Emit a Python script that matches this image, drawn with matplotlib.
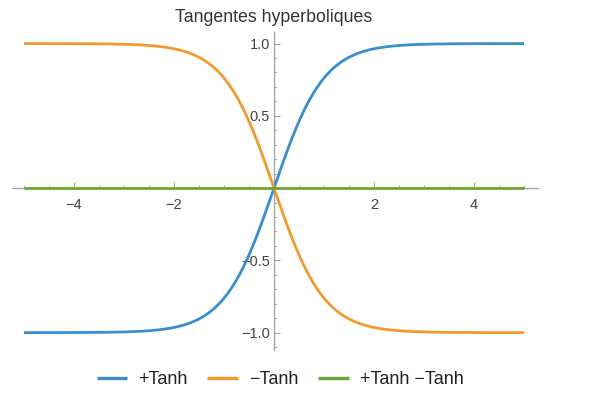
import numpy as np
import matplotlib
matplotlib.use("Agg")
import matplotlib.pyplot as plt
from matplotlib.ticker import MultipleLocator, FixedLocator

title = "Tangentes hyperboliques"
labels = ["+Tanh", "\u2212Tanh", "+Tanh \u2212Tanh"]
colors = ["#3A8FCB", "#F29A2E", "#6BA539"]
x_range = (-5, 5)
x_ticks = [-4, -2, 2, 4]
y_ticks = [-1.0, -0.5, 0.5, 1.0]

plt.rcParams['font.family'] = ['Liberation Sans', 'DejaVu Sans']
fig = plt.figure(figsize=(6, 4.08), dpi=100)
ax = fig.add_axes([12/600, 1-350/408, 526/600, (350-32)/408])

x = np.linspace(x_range[0], x_range[1], 600)
ys = [np.tanh(x), -np.tanh(x), np.tanh(x) - np.tanh(x)]
for y, c, l in zip(ys, colors, labels):
    ax.plot(x, y, color=c, lw=2.0, label=l, solid_capstyle='butt', zorder=3)

ax.set_xlim(-5.24, 5.28)
ax.set_ylim(-1.12, 1.08)
for s in ['top', 'right']:
    ax.spines[s].set_visible(False)
ax.spines['left'].set_position(('data', 0))
ax.spines['bottom'].set_position(('data', 0))
for s in ['left', 'bottom']:
    ax.spines[s].set_color('#A0A0A0')
    ax.spines[s].set_linewidth(0.9)
ax.xaxis.set_major_locator(FixedLocator(x_ticks))
ax.xaxis.set_minor_locator(MultipleLocator(0.5))
ax.yaxis.set_major_locator(FixedLocator(y_ticks))
ax.yaxis.set_minor_locator(MultipleLocator(0.1))
ax.set_xticklabels([f"{v:d}".replace('-', '\u2212') for v in x_ticks])
ax.set_yticklabels([f"{v:.1f}".replace('-', '\u2212') for v in y_ticks])
ax.tick_params(which='both', direction='in', color='#A0A0A0', labelcolor='#444444', labelsize=10.5)
ax.tick_params(which='major', length=4, width=0.8)
ax.tick_params(axis='x', which='major', pad=7)
ax.tick_params(axis='y', which='major', pad=3)
ax.tick_params(which='minor', length=2.5, width=0.6)
ax.patch.set_visible(False)

fig.text(274/600, 1-18/408, title, ha='center', va='center', fontsize=12.8, color='#333333')
leg = fig.legend(loc='center', bbox_to_anchor=(280/600, 1-380/408), ncol=3, frameon=False,
                 fontsize=13, handlelength=1.7, columnspacing=1.1, handletextpad=0.6)
for t in leg.get_texts():
    t.set_color('#222222')
for h in leg.get_lines():
    h.set_linewidth(2.4)

fig.savefig("out.png", dpi=100)
